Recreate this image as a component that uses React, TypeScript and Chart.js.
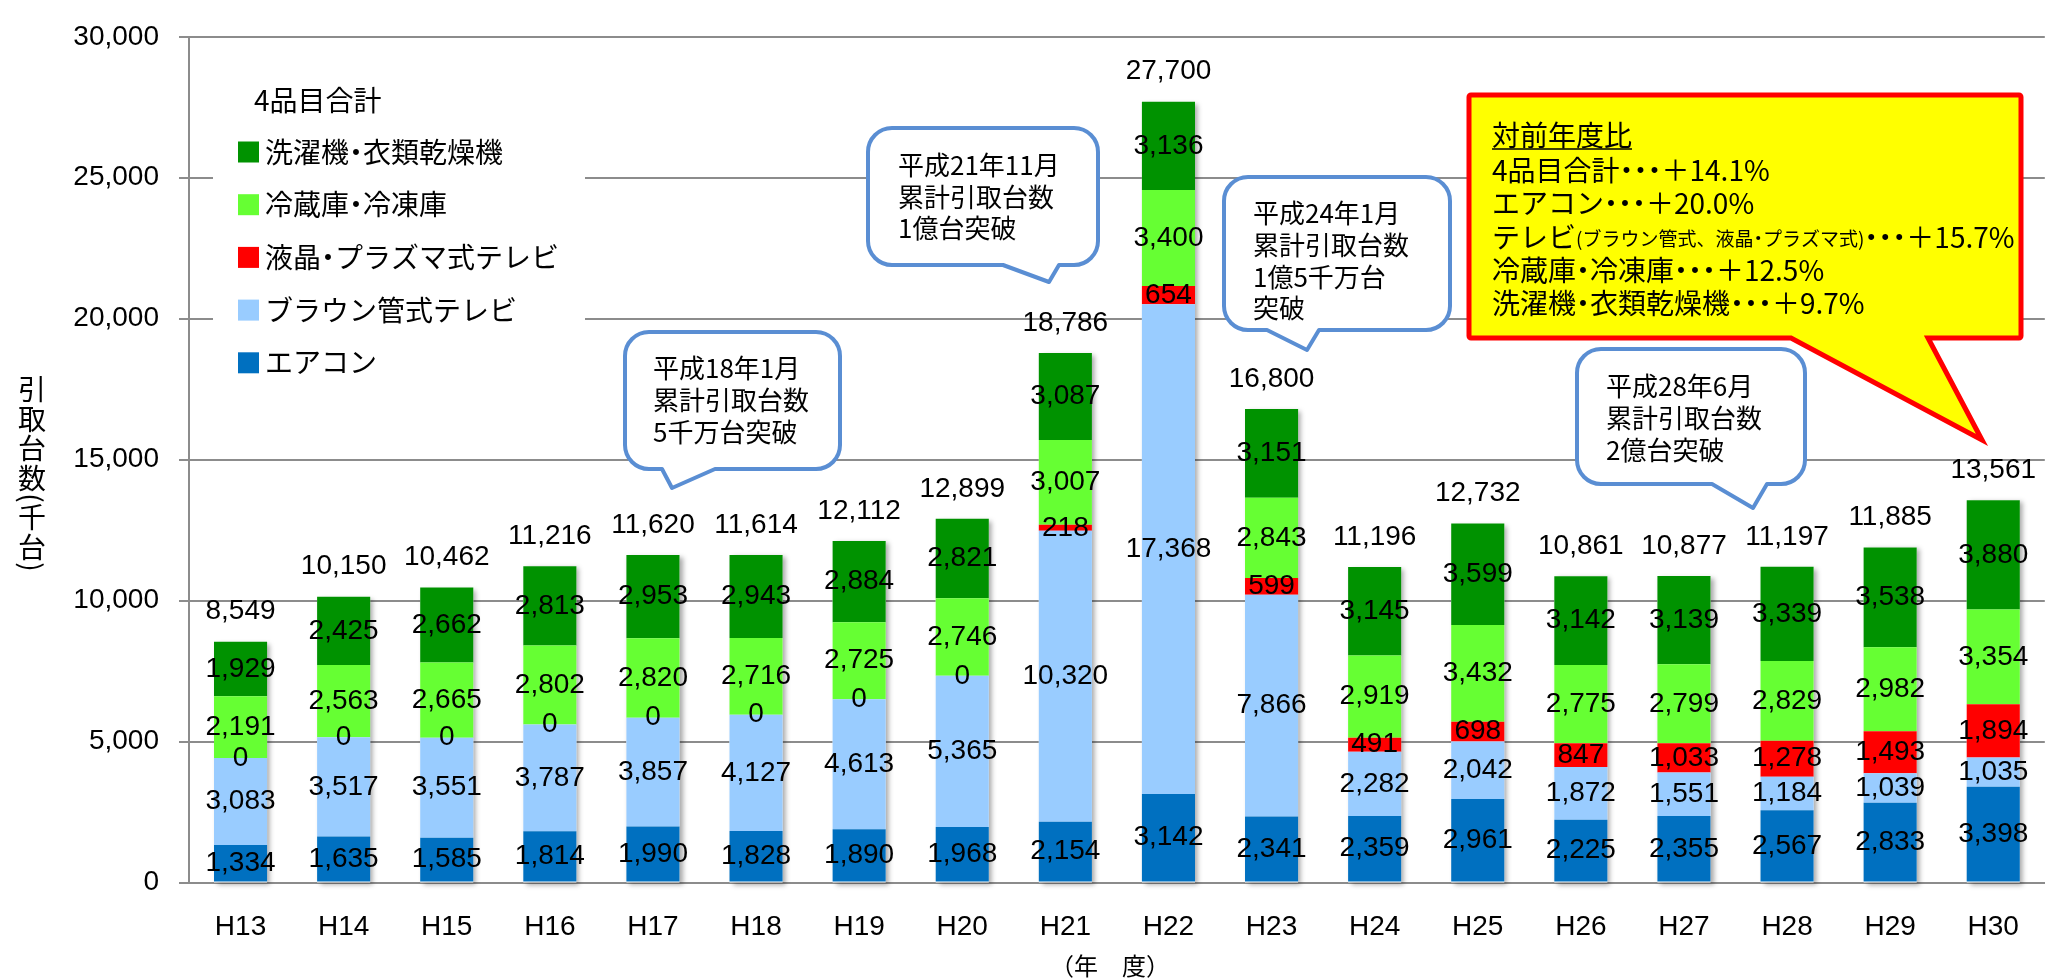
import React, { useEffect, useRef } from 'react';
import { Chart, registerables } from 'chart.js';

Chart.register(...registerables);

const categories = ['H13', 'H14', 'H15', 'H16', 'H17', 'H18', 'H19', 'H20', 'H21', 'H22', 'H23', 'H24', 'H25', 'H26', 'H27', 'H28', 'H29', 'H30'];
const aircon = [1334, 1635, 1585, 1814, 1990, 1828, 1890, 1968, 2154, 3142, 2341, 2359, 2961, 2225, 2355, 2567, 2833, 3398];
const crtTv = [3083, 3517, 3551, 3787, 3857, 4127, 4613, 5365, 10320, 17368, 7866, 2282, 2042, 1872, 1551, 1184, 1039, 1035];
const flatTv = [0, 0, 0, 0, 0, 0, 0, 0, 218, 654, 599, 491, 698, 847, 1033, 1278, 1493, 1894];
const fridge = [2191, 2563, 2665, 2802, 2820, 2716, 2725, 2746, 3007, 3400, 2843, 2919, 3432, 2775, 2799, 2829, 2982, 3354];
const washer = [1929, 2425, 2662, 2813, 2953, 2943, 2884, 2821, 3087, 3136, 3151, 3145, 3599, 3142, 3139, 3339, 3538, 3880];
const totals = [8549, 10150, 10462, 11216, 11620, 11614, 12112, 12899, 18786, 27700, 16800, 11196, 12732, 10861, 10877, 11197, 11885, 13561];

const seriesNames = ['エアコン', 'ブラウン管式テレビ', '液晶・プラズマ式テレビ', '冷蔵庫・冷凍庫', '洗濯機・衣類乾燥機'];
const seriesColors = ['#0070C0', '#99CCFF', '#FF0000', '#66FF33', '#009200'];
const seriesValues = [aircon, crtTv, flatTv, fridge, washer];
const totalName = '4品目合計';

const yMin = 0;
const yMax = 30000;
const yStep = 5000;

const yAxisTitle = '引取台数(千台)';
const xAxisTitle = '（年　度）';

const milestoneNotes = [
  ['平成18年1月', '累計引取台数', '5千万台突破'],
  ['平成21年11月', '累計引取台数', '1億台突破'],
  ['平成24年1月', '累計引取台数', '1億5千万台', '突破'],
  ['平成28年6月', '累計引取台数', '2億台突破'],
];

const yoyTitle = '対前年度比';
const yoyLabels = ['4品目合計', 'エアコン', 'テレビ', '冷蔵庫・冷凍庫', '洗濯機・衣類乾燥機'];
const yoyNotes = ['', '', '(ブラウン管式、液晶・プラズマ式)', '', ''];
const yoyRates = ['＋14.1%', '＋20.0%', '＋15.7%', '＋12.5%', '＋9.7%'];

const NUM_FONT = '"Liberation Sans", "Noto Sans CJK JP", sans-serif';
const JP_FONT = '"Noto Sans CJK JP", "Liberation Sans", sans-serif';

const fmt = (v: number) => v.toLocaleString('en-US');

function drawJP(ctx: CanvasRenderingContext2D, text: string, x: number, y: number, size: number): number {
  ctx.font = `${size}px ${JP_FONT}`;
  ctx.textAlign = 'left';
  ctx.textBaseline = 'middle';
  let cx = x;
  const parts = text.split('・');
  parts.forEach((p, i) => {
    if (p) {
      ctx.fillText(p, cx, y);
      cx += ctx.measureText(p).width;
    }
    if (i < parts.length - 1) {
      const adv = size * 0.5;
      ctx.textAlign = 'center';
      ctx.fillText('・', cx + adv / 2, y);
      ctx.textAlign = 'left';
      cx += adv;
    }
  });
  return cx - x;
}

function calloutPath(ctx: CanvasRenderingContext2D, b: any, r: number) {
  ctx.beginPath();
  ctx.moveTo(b.x0 + r, b.y0);
  ctx.lineTo(b.x1 - r, b.y0);
  ctx.arcTo(b.x1, b.y0, b.x1, b.y0 + r, r);
  ctx.lineTo(b.x1, b.y1 - r);
  ctx.arcTo(b.x1, b.y1, b.x1 - r, b.y1, r);
  ctx.lineTo(b.br, b.y1);
  ctx.lineTo(b.tx, b.ty);
  ctx.lineTo(b.bl, b.y1);
  ctx.lineTo(b.x0 + r, b.y1);
  ctx.arcTo(b.x0, b.y1, b.x0, b.y1 - r, r);
  ctx.lineTo(b.x0, b.y0 + r);
  ctx.arcTo(b.x0, b.y0, b.x0 + r, b.y0, r);
  ctx.closePath();
}

const calloutBoxes = [
  { x0: 625, y0: 332, x1: 840, y1: 469, bl: 662, br: 715, tx: 672, ty: 488, textX: 653, lineY: [368, 400, 432] },
  { x0: 868, y0: 128, x1: 1098, y1: 265, bl: 1003, br: 1059, tx: 1049, ty: 282, textX: 898, lineY: [165, 197, 228] },
  { x0: 1224, y0: 177, x1: 1450, y1: 330, bl: 1267, br: 1319, tx: 1307, ty: 350, textX: 1253, lineY: [213, 245, 277, 308] },
  { x0: 1577, y0: 349, x1: 1805, y1: 484, bl: 1712, br: 1767, tx: 1753, ty: 508, textX: 1606, lineY: [386, 418, 450] },
];
const yoyBox = { x0: 1469, y0: 95, x1: 2021, y1: 338, bl: 1791, br: 1928, tx: 1982, ty: 440 };

const overlayPlugin = {
  id: 'overlay',
  beforeDatasetsDraw(chart: any) {
    const ctx = chart.ctx as CanvasRenderingContext2D;
    const y = chart.scales.y;
    const meta0 = chart.getDatasetMeta(0);
    ctx.save();
    ctx.shadowColor = 'rgba(0,0,0,0.35)';
    ctx.shadowBlur = 5;
    ctx.shadowOffsetX = 3;
    ctx.shadowOffsetY = 2;
    ctx.fillStyle = '#ffffff';
    meta0.data.forEach((bar: any, i: number) => {
      const sum = seriesValues.reduce((a, s) => a + s[i], 0);
      const top = y.getPixelForValue(sum);
      const base = y.getPixelForValue(0);
      ctx.fillRect(bar.x - bar.width / 2, top, bar.width, base - top);
    });
    ctx.restore();
  },
  afterDatasetsDraw(chart: any) {
    const ctx = chart.ctx as CanvasRenderingContext2D;
    const y = chart.scales.y;
    ctx.save();
    ctx.font = `28px ${NUM_FONT}`;
    ctx.fillStyle = '#000';
    ctx.textAlign = 'center';
    ctx.textBaseline = 'middle';
    chart.data.datasets.forEach((ds: any, di: number) => {
      const meta = chart.getDatasetMeta(di);
      meta.data.forEach((bar: any, i: number) => {
        const v = ds.data[i];
        ctx.fillText(fmt(v), bar.x, (bar.y + bar.base) / 2);
      });
    });
    const meta0 = chart.getDatasetMeta(0);
    meta0.data.forEach((bar: any, i: number) => {
      ctx.fillText(fmt(totals[i]), bar.x, y.getPixelForValue(totals[i]) - 30);
    });
    ctx.restore();
  },
  afterDraw(chart: any) {
    const ctx = chart.ctx as CanvasRenderingContext2D;
    ctx.save();
    ctx.fillStyle = '#000';
    ctx.textBaseline = 'middle';

    // legend
    ctx.fillStyle = '#ffffff';
    ctx.fillRect(213, 62, 372, 330);
    ctx.fillStyle = '#000';
    drawJP(ctx, totalName, 254, 100, 28);
    for (let k = 0; k < seriesNames.length; k++) {
      const si = seriesNames.length - 1 - k;
      const cy = 152 + k * 52.7;
      ctx.fillStyle = seriesColors[si];
      ctx.fillRect(238, cy - 10.5, 21, 21);
      ctx.fillStyle = '#000';
      drawJP(ctx, seriesNames[si], 265, cy, 28);
    }

    // y axis title (vertical)
    ctx.font = `28px ${JP_FONT}`;
    ctx.textAlign = 'center';
    let cur = 375;
    for (const ch of Array.from(yAxisTitle)) {
      const paren = ch === '(' || ch === ')';
      const adv = paren ? 10 : 29.5;
      const cy = cur + adv / 2;
      if (paren) {
        ctx.save();
        ctx.translate(32, cy);
        ctx.rotate(Math.PI / 2);
        ctx.fillText(ch, 0, 0);
        ctx.restore();
      } else {
        ctx.fillText(ch, 32, cy);
      }
      cur += adv;
    }

    // x axis title
    ctx.font = `24px ${JP_FONT}`;
    ctx.textAlign = 'center';
    ctx.fillText(xAxisTitle, 1110, 966);

    // milestone callouts
    calloutBoxes.forEach((b, idx) => {
      calloutPath(ctx, b, 24);
      ctx.fillStyle = '#ffffff';
      ctx.fill();
      ctx.strokeStyle = '#5A8ED3';
      ctx.lineWidth = 4;
      ctx.lineJoin = 'round';
      ctx.stroke();
      ctx.fillStyle = '#000';
      milestoneNotes[idx].forEach((line, li) => {
        drawJP(ctx, line, b.textX, b.lineY[li], 26);
      });
    });

    // year-over-year box
    calloutPath(ctx, yoyBox, 2);
    ctx.fillStyle = '#FFFF00';
    ctx.fill();
    ctx.strokeStyle = '#FF0000';
    ctx.lineWidth = 5;
    ctx.lineJoin = 'miter';
    ctx.stroke();
    ctx.fillStyle = '#000';
    const tw = drawJP(ctx, yoyTitle, 1492, 135, 28);
    ctx.strokeStyle = '#000';
    ctx.lineWidth = 1.5;
    ctx.beginPath();
    ctx.moveTo(1492, 149);
    ctx.lineTo(1492 + tw, 149);
    ctx.stroke();
    const ys = [170, 203, 237, 270, 303];
    yoyLabels.forEach((lab, i) => {
      let x = 1492;
      x += drawJP(ctx, lab, x, ys[i], 28);
      if (yoyNotes[i]) x += drawJP(ctx, yoyNotes[i], x, ys[i] + 2, 19);
      x += drawJP(ctx, '・・・', x, ys[i], 28);
      drawJP(ctx, yoyRates[i], x, ys[i], 28);
    });
    ctx.restore();
  },
};

export default function App() {
  const canvasRef = useRef<HTMLCanvasElement | null>(null);

  useEffect(() => {
    let chart: Chart | null = null;
    let cancelled = false;
    const ready = Promise.all([
      (document as any).fonts.load(`28px "Liberation Sans"`, '0123456789'),
      (document as any).fonts.load(`27px "Noto Sans CJK JP"`, '引取台数平成'),
    ]).catch(() => null);
    ready.then(() => {
      if (cancelled || !canvasRef.current) return;
      chart = new Chart(canvasRef.current, {
        type: 'bar',
        data: {
          labels: categories,
          datasets: seriesValues.map((vals, i) => ({
            label: seriesNames[i],
            data: vals,
            backgroundColor: seriesColors[i],
            borderWidth: 0,
            categoryPercentage: 1,
            barPercentage: 0.515,
          })),
        },
        options: {
          responsive: false,
          animation: false,
          devicePixelRatio: 1,
          layout: { padding: { top: 23, right: 2, bottom: 0, left: 0 } },
          plugins: {
            legend: { display: false },
            tooltip: { enabled: false },
            title: { display: false },
          },
          scales: {
            x: {
              stacked: true,
              grid: { display: false, drawTicks: false },
              border: { display: true, color: '#8C8C8C', width: 2 },
              ticks: {
                color: '#000',
                font: { family: NUM_FONT, size: 28 },
                padding: 28,
                maxRotation: 0,
                autoSkip: false,
              },
              afterFit: (scale: any) => {
                scale.height = 95.5;
              },
            },
            y: {
              stacked: true,
              min: yMin,
              max: yMax,
              grid: { color: '#8C8C8C', lineWidth: 2, tickLength: 10, drawTicks: true },
              border: { display: true, color: '#8C8C8C', width: 2 },
              ticks: {
                stepSize: yStep,
                color: '#000',
                font: { family: NUM_FONT, size: 28 },
                padding: 20,
                callback: (v: any) => fmt(Number(v)),
              },
              afterFit: (scale: any) => {
                scale.width = 189;
              },
            },
          },
        },
        plugins: [overlayPlugin],
      } as any);
    });
    return () => {
      cancelled = true;
      if (chart) chart.destroy();
    };
  }, []);

  return (
    <div style={{ position: 'absolute', left: 0, top: 0, width: 2047, height: 978, background: '#fff' }}>
      <canvas ref={canvasRef} width={2047} height={978} style={{ display: 'block', width: 2047, height: 978 }} />
    </div>
  );
}
